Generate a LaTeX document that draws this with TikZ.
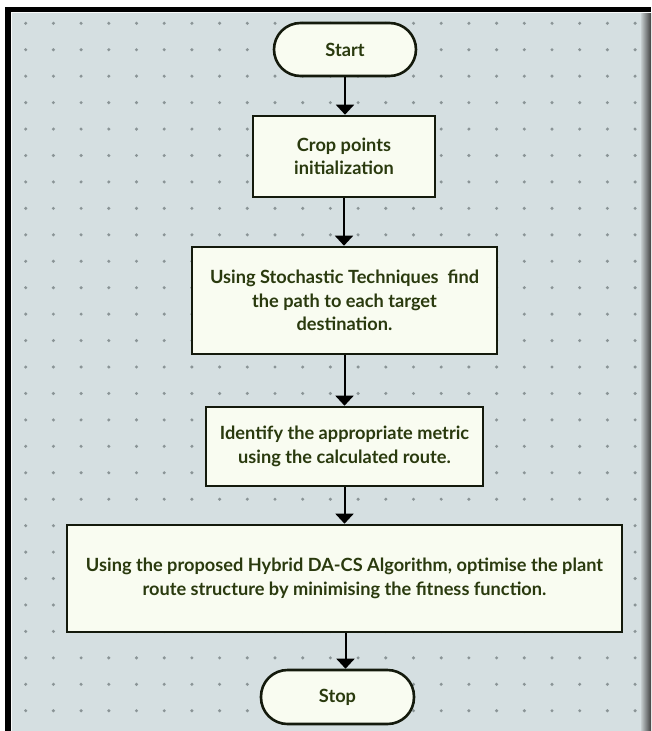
\documentclass[tikz,border=0pt]{standalone}
\usepackage{fontspec}
\setmainfont{Lato}
\usetikzlibrary{arrows.meta}
\definecolor{bgc}{HTML}{D5DFE1}
\definecolor{dotc}{HTML}{8A9496}
\definecolor{fillc}{HTML}{F9FCF1}
\definecolor{edgec}{HTML}{141A0C}
\definecolor{txtc}{HTML}{2A3A0E}
\tikzset{
  box/.style={draw=edgec, fill=fillc, line width=2.6pt, inner sep=0pt, align=center,
    text=txtc, font=\fontsize{18.2}{23.5}\selectfont\bfseries},
  term/.style={box, rounded corners=26.5pt},
  arr/.style={draw=black, line width=2pt, -{Triangle[width=18pt,length=10pt]}},
}
\begin{document}
\begin{tikzpicture}[x=1pt,y=-1pt]
\useasboundingbox (0,0) rectangle (651,731);
% frame
\fill[white] (0,0) rectangle (651,731);
\fill[black] (5,7) rectangle (651,731);
\fill[white!85!bgc] (10.5,11.5) rectangle (651,731);
\fill[bgc] (12,13) rectangle (641,731);
\shade[left color=bgc!80!gray, right color=black!75] (641,13) rectangle (651,731);
% dots
\foreach \i in {0,...,22}{
  \foreach \j in {0,...,26}{
    \fill[dotc] ({25.7+27.7*\i},{23.3+26.44*\j}) circle (1.7);
  }
}
% nodes
\node[term, minimum width=142pt, minimum height=53pt] (start) at (345,49.5) {Start};
\node[box, minimum width=182pt, minimum height=81pt] (b1) at (344,156.5) {Crop points\\initialization};
\node[box, minimum width=305pt, minimum height=107pt] (b2) at (344.5,300.5) {Using Stochastic Techniques \ find\\the path to each target\\destination.};
\node[box, minimum width=277pt, minimum height=79pt] (b3) at (344.5,446.5) {Identify the appropriate metric\\using the calculated route.};
\node[box, minimum width=555pt, minimum height=107pt] (b4) at (344.5,578.5) {Using the proposed Hybrid DA-CS Algorithm, optimise the plant\\route structure by minimising the fitness function.};
\node[term, minimum width=153pt, minimum height=54pt] (stop) at (337.5,697) {Stop};
% connectors
\draw[arr] (start.south) -- (start.south |- b1.north);
\draw[arr] (b1.south) -- (b1.south |- b2.north);
\draw[arr] (b2.south) -- (b2.south |- b3.north);
\draw[arr] (b3.south) -- (b3.south |- b4.north);
\draw[arr] ([xshift=1pt]b4.south) -- ([xshift=1pt]b4.south |- stop.north);
\end{tikzpicture}
\end{document}
